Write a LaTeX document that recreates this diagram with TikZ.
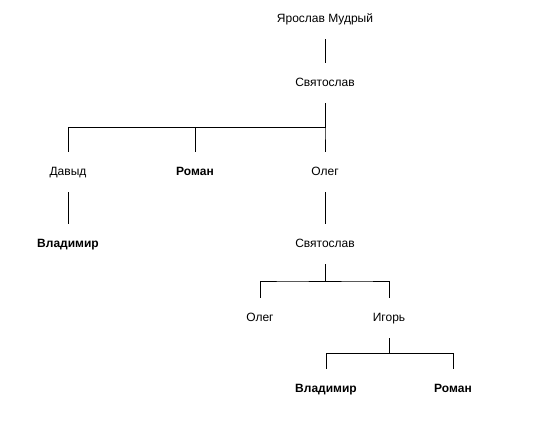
\documentclass[tikz,border=0pt]{standalone}
\usepackage{fontspec}
\setmainfont{Liberation Sans}
\usepackage{tikz}
\usetikzlibrary{calc}

\begin{document}
\begin{tikzpicture}[
    x=1pt, y=-1pt,
    person/.style={
        minimum height=40pt,
        inner sep=0pt,
        text height=8.6pt,
        text depth=2.4pt,
        font=\fontsize{12}{14}\selectfont
    },
    heir/.style={person, font=\fontsize{12}{14}\selectfont\bfseries},
    link/.style={line width=1pt, black},
    elbow/.style={to path={(\tikztostart) |- ($(\tikztostart)!0.5!(\tikztotarget)$) -| (\tikztotarget)}}
]

% Page
\useasboundingbox (0, 0) rectangle (538, 425);

% ===== Top line =====
\node[person] (yaroslav) at (325, 19) {Ярослав Мудрый};
\node[person] (svyatoslav) at (325, 83) {Святослав};

% Sons of Svyatoslav
\node[person] (david) at (68, 172) {Давыд};
\node[heir] (roman) at (195, 172) {Роман};
\node[person] (oleg) at (325, 172) {Олег};

% Next generation
\node[heir] (vladimir) at (68, 244) {Владимир};
\node[person] (svyatoslavB) at (325, 244) {Святослав};

\node[person] (olegB) at (260, 318) {Олег};
\node[person] (igor) at (389, 318) {Игорь};

\node[heir] (vladimirB) at (326, 389) {Владимир};
\node[heir] (romanB) at (453, 389) {Роман};

% ===== Connectors =====
\draw[link] (yaroslav.south) -- (svyatoslav.north);

\draw[link] (svyatoslav.south) to[elbow] (david.north);
\draw[link] (svyatoslav.south) to[elbow] (roman.north);
\draw[link] (svyatoslav.south) to[elbow] (oleg.north);

\draw[link] (david.south) -- (vladimir.north);
\draw[link] (oleg.south) -- (svyatoslavB.north);

\draw[link] (svyatoslavB.south) to[elbow] (olegB.north);
\draw[link] (svyatoslavB.south) to[elbow] (igor.north);

\draw[link] (igor.south) to[elbow] (vladimirB.north);
\draw[link] (igor.south) to[elbow] (romanB.north);

\end{tikzpicture}
\end{document}
